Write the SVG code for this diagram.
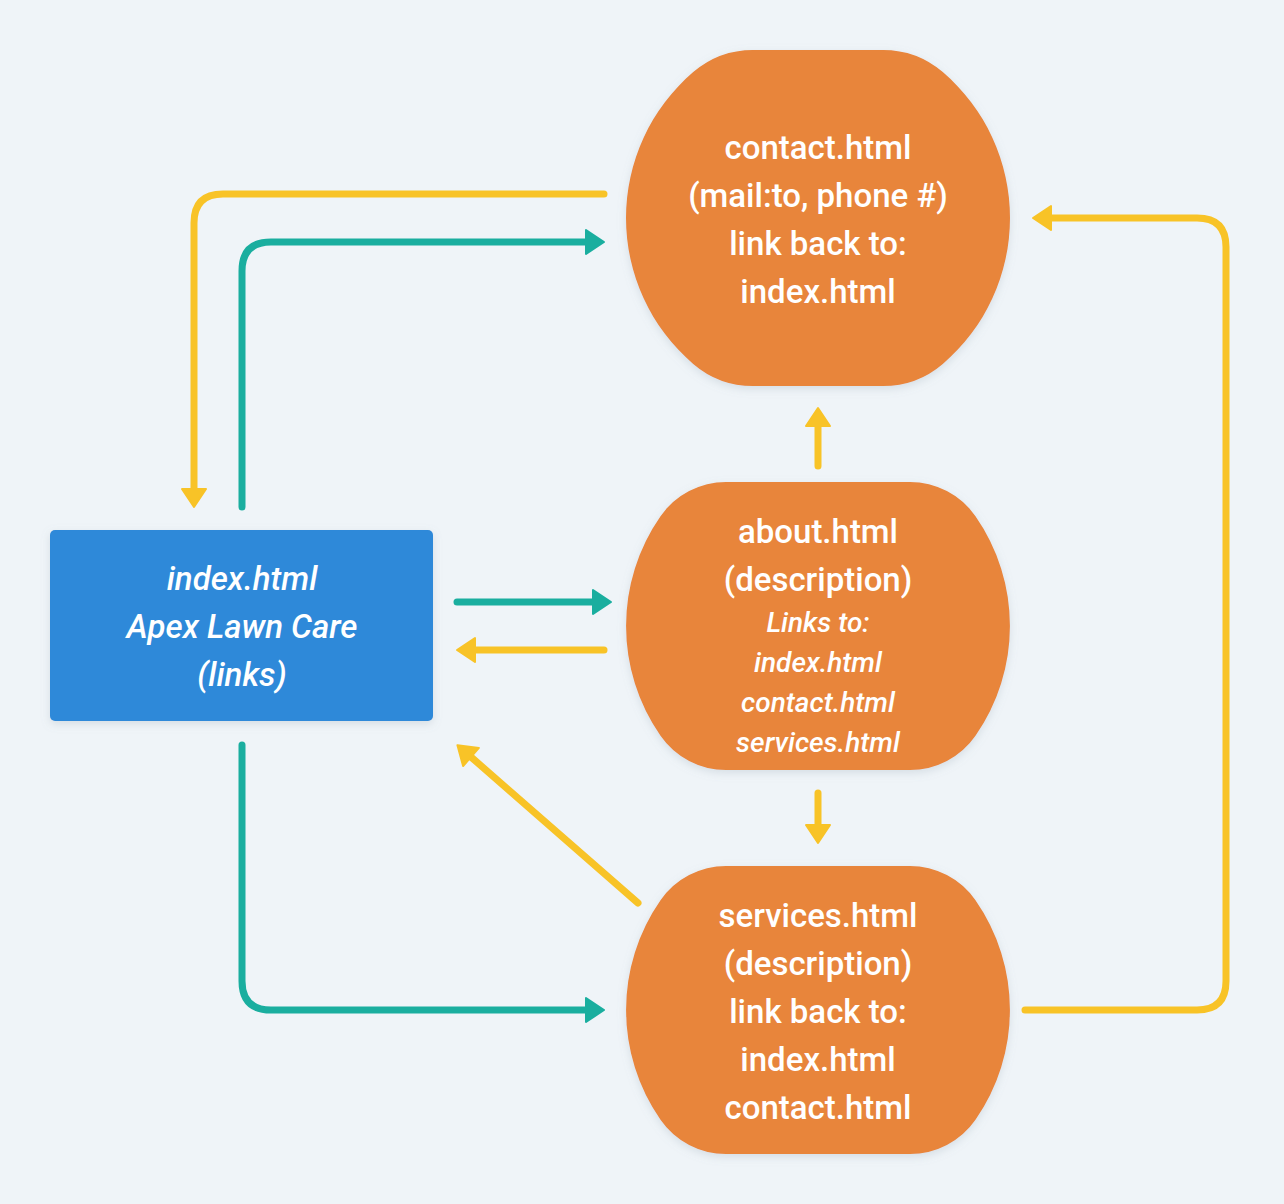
<svg xmlns="http://www.w3.org/2000/svg" width="1284" height="1204" viewBox="0 0 1284 1204">
  <style>
    .t { font-family: Roboto, "Noto Sans", sans-serif; fill: #ffffff; text-anchor: middle; font-size: 33px; font-weight: 500; }
    .i { font-style: italic; }
    .s { font-size: 28px; }
    .c { fill: none; stroke-width: 7; stroke-linecap: round; stroke-linejoin: round; }
    .y { stroke: #f8c327; }
    .g { stroke: #1aae9f; }
    .node { fill: #e8853a; filter: url(#sh); }
  </style>
  <defs>
    <filter id="sh" x="-10%" y="-10%" width="120%" height="130%">
      <feDropShadow dx="0" dy="3" stdDeviation="4" flood-color="#8a9aa8" flood-opacity="0.25"/>
    </filter>
    <marker id="ay" markerUnits="userSpaceOnUse" markerWidth="30" markerHeight="30" viewBox="-2 -15 24 30" refX="0" refY="0" orient="auto">
      <path d="M0,-12 L18,0 L0,12 Z" fill="#f8c327" stroke="#f8c327" stroke-width="2" stroke-linejoin="round"/>
    </marker>
    <marker id="ag" markerUnits="userSpaceOnUse" markerWidth="30" markerHeight="30" viewBox="-2 -15 24 30" refX="0" refY="0" orient="auto">
      <path d="M0,-12 L18,0 L0,12 Z" fill="#1aae9f" stroke="#1aae9f" stroke-width="2" stroke-linejoin="round"/>
    </marker>
  </defs>
  <rect width="1284" height="1204" fill="#eff4f8"/>

  <g id="connectors">
    <path class="c y" d="M604,194 L223,194 Q194,194 194,223 L194,489" marker-end="url(#ay)"/>
    <path class="c g" d="M242,507 L242,271 Q242,242 271,242 L586,242" marker-end="url(#ag)"/>
    <path class="c g" d="M457,602 L593,602" marker-end="url(#ag)"/>
    <path class="c y" d="M604,650 L475,650" marker-end="url(#ay)"/>
    <path class="c g" d="M242,745 L242,981 Q242,1010 271,1010 L586,1010" marker-end="url(#ag)"/>
    <path class="c y" d="M638,903 L471,757" marker-end="url(#ay)"/>
    <path class="c y" d="M818,466 L818,426" marker-end="url(#ay)"/>
    <path class="c y" d="M818,793 L818,825" marker-end="url(#ay)"/>
    <path class="c y" d="M1025,1010 L1197,1010 Q1226,1010 1226,981 L1226,247 Q1226,218 1197,218 L1051,218" marker-end="url(#ay)"/>
  </g>

  <g id="index">
    <rect x="50" y="530" width="383" height="191" rx="5" fill="#2e89d9" filter="url(#sh)"/>
    <text class="t i" x="242" y="590">index.html</text>
    <text class="t i" x="242" y="638">Apex Lawn Care</text>
    <text class="t i" x="242" y="686">(links)</text>
  </g>

  <g id="contact">
    <path class="node" d="M753,50 L883,50 A92,92 0 0 1 942.8,72.1 A192,192 0 0 1 942.8,363.9 A92,92 0 0 1 883,386 L753,386 A92,92 0 0 1 693.2,363.9 A192,192 0 0 1 693.2,72.1 A92,92 0 0 1 753,50 Z"/>
    <text class="t" x="818" y="159">contact.html</text>
    <text class="t" x="818" y="207">(mail:to, phone #)</text>
    <text class="t" x="818" y="255">link back to:</text>
    <text class="t" x="818" y="303">index.html</text>
  </g>

  <g id="about">
    <path class="node" d="M726.1,482 L909.9,482 A80,80 0 0 1 975.5,516.3 A192,192 0 0 1 975.5,735.7 A80,80 0 0 1 909.9,770 L726.1,770 A80,80 0 0 1 660.5,735.7 A192,192 0 0 1 660.5,516.3 A80,80 0 0 1 726.1,482 Z"/>
    <text class="t" x="818" y="543">about.html</text>
    <text class="t" x="818" y="591">(description)</text>
    <text class="t i s" x="818" y="632">Links to:</text>
    <text class="t i s" x="818" y="672">index.html</text>
    <text class="t i s" x="818" y="712">contact.html</text>
    <text class="t i s" x="818" y="752">services.html</text>
  </g>

  <g id="services">
    <path class="node" d="M726.1,866 L909.9,866 A80,80 0 0 1 975.5,900.3 A192,192 0 0 1 975.5,1119.7 A80,80 0 0 1 909.9,1154 L726.1,1154 A80,80 0 0 1 660.5,1119.7 A192,192 0 0 1 660.5,900.3 A80,80 0 0 1 726.1,866 Z"/>
    <text class="t" x="818" y="927">services.html</text>
    <text class="t" x="818" y="975">(description)</text>
    <text class="t" x="818" y="1023">link back to:</text>
    <text class="t" x="818" y="1071">index.html</text>
    <text class="t" x="818" y="1119">contact.html</text>
  </g>
</svg>
